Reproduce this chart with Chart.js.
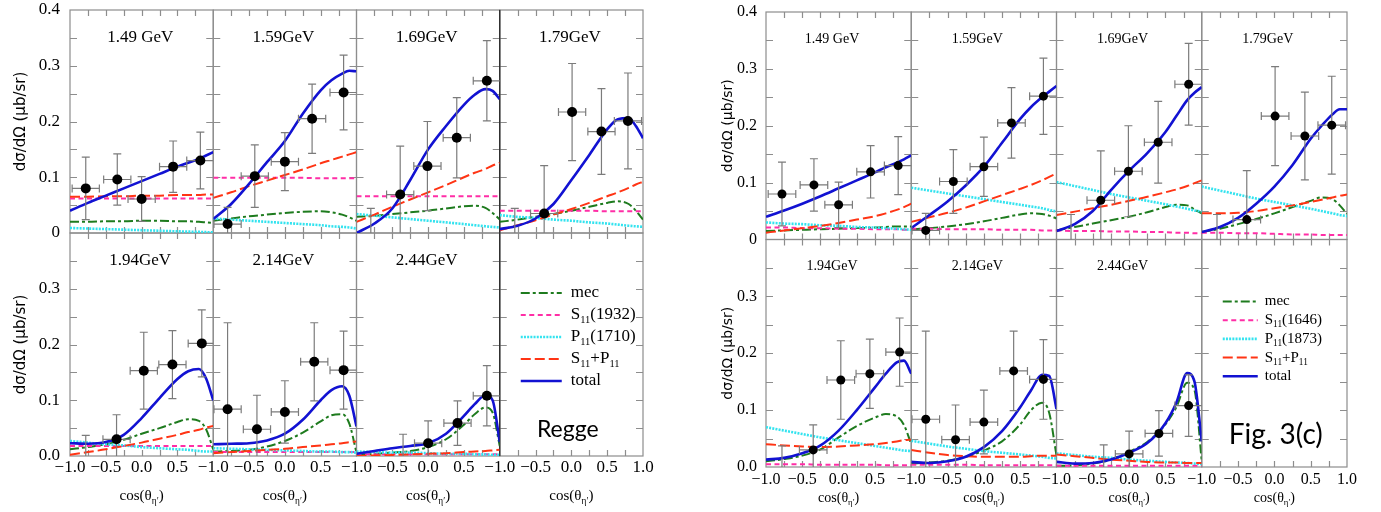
<!DOCTYPE html>
<html>
<head>
<meta charset="utf-8">
<script src="https://cdn.jsdelivr.net/npm/chart.js@4.4.1/dist/chart.umd.min.js"></script>
<style>
  body { margin: 0; background: #fff; width: 1381px; height: 512px; overflow: hidden; position: relative; }
  canvas { position: absolute; top: 0; }
  #regge { left: 0; }
  #fit { left: 700px; }
</style>
</head>
<body>
<canvas id="regge" width="700" height="512"></canvas>
<canvas id="fit" width="681" height="512"></canvas>
<script>
// cos(theta) nodes where every model curve is sampled
const cosGrid = [-1, -0.75, -0.5, -0.25, 0, 0.25, 0.5, 0.65, 0.8, 0.9, 1];
const energies = ['1.49 GeV', '1.59GeV', '1.69GeV', '1.79GeV', '1.94GeV', '2.14GeV', '2.44GeV'];

// measured cross sections (same points in both figures)
const pointCos = [
    [-0.78, -0.34, 0.0, 0.44, 0.82],
    [-0.80, -0.42, 0.0, 0.38, 0.82],
    [-0.80, -0.39, -0.01, 0.40, 0.82],
    [-0.79, -0.38, 0.01, 0.42, 0.79],
    [-0.78, -0.35, 0.03, 0.43, 0.84],
    [-0.80, -0.39, 0.0, 0.41, 0.82],
    [-0.35, 0.0, 0.41, 0.82]
];
const pointVal = [
    [0.080, 0.096, 0.061, 0.119, 0.130],
    [0.016, 0.102, 0.128, 0.205, 0.252],
    [-0.012, 0.069, 0.120, 0.171, 0.273],
    [-0.012, 0.035, 0.217, 0.182, 0.201],
    [-0.012, 0.030, 0.153, 0.164, 0.202],
    [0.084, 0.048, 0.079, 0.169, 0.154],
    [-0.012, 0.023, 0.059, 0.108]
];
const pointErr = [
    [0.056, 0.046, 0.040, 0.046, 0.051],
    [0.030, 0.056, 0.052, 0.062, 0.067],
    [0.056, 0.087, 0.080, 0.072, 0.072],
    [0.056, 0.086, 0.087, 0.077, 0.086],
    [0.049, 0.044, 0.069, 0.061, 0.060],
    [0.155, 0.061, 0.056, 0.070, 0.070],
    [0.051, 0.040, 0.040, 0.054]
];
const binHalfWidth = [0.19];

// Regge model components, one row per energy
const reggeMec = [
    [0.020, 0.020, 0.021, 0.021, 0.022, 0.022, 0.021, 0.021, 0.020, 0.019, 0.018],
    [0.022, 0.026, 0.030, 0.033, 0.036, 0.038, 0.039, 0.037, 0.033, 0.028, 0.022],
    [0.029, 0.031, 0.034, 0.037, 0.040, 0.044, 0.048, 0.049, 0.045, 0.036, 0.024],
    [0.020, 0.024, 0.029, 0.034, 0.040, 0.047, 0.054, 0.057, 0.052, 0.040, 0.024],
    [0.012, 0.016, 0.021, 0.029, 0.040, 0.050, 0.061, 0.066, 0.063, 0.048, 0.012],
    [0.008, 0.009, 0.011, 0.017, 0.027, 0.042, 0.062, 0.073, 0.075, 0.058, 0.006],
    [0.002, 0.004, 0.006, 0.009, 0.016, 0.030, 0.056, 0.075, 0.087, 0.078, 0.018]
];
const reggeS11 = [
    [0.062, 0.062, 0.062, 0.062, 0.062, 0.062, 0.062, 0.062, 0.062, 0.062, 0.062],
    [0.099, 0.099, 0.099, 0.099, 0.099, 0.099, 0.098, 0.098, 0.098, 0.098, 0.098],
    [0.066, 0.066, 0.066, 0.066, 0.066, 0.066, 0.066, 0.066, 0.066, 0.066, 0.066],
    [0.040, 0.040, 0.040, 0.040, 0.040, 0.040, 0.039, 0.039, 0.039, 0.039, 0.039],
    [0.018, 0.018, 0.018, 0.018, 0.018, 0.018, 0.018, 0.018, 0.018, 0.018, 0.018],
    [0.007, 0.007, 0.007, 0.007, 0.007, 0.007, 0.007, 0.007, 0.007, 0.007, 0.007],
    [0.003, 0.003, 0.003, 0.003, 0.003, 0.003, 0.003, 0.003, 0.003, 0.003, 0.003]
];
const reggeP11 = [
    [0.009, 0.008, 0.007, 0.006, 0.005, 0.004, 0.003, 0.0025, 0.002, 0.0015, 0.001],
    [0.026, 0.024, 0.022, 0.020, 0.018, 0.016, 0.014, 0.012, 0.011, 0.010, 0.008],
    [0.034, 0.031, 0.028, 0.025, 0.022, 0.019, 0.016, 0.014, 0.012, 0.011, 0.010],
    [0.032, 0.029, 0.027, 0.024, 0.022, 0.019, 0.017, 0.015, 0.013, 0.012, 0.011],
    [0.027, 0.024, 0.021, 0.019, 0.016, 0.014, 0.012, 0.011, 0.009, 0.008, 0.008],
    [0.014, 0.013, 0.012, 0.011, 0.010, 0.009, 0.008, 0.008, 0.007, 0.007, 0.006],
    [0.008, 0.007, 0.006, 0.006, 0.005, 0.004, 0.004, 0.003, 0.003, 0.002, 0.002]
];
const reggeSum = [
    [0.065, 0.065, 0.066, 0.066, 0.067, 0.067, 0.068, 0.068, 0.068, 0.069, 0.069],
    [0.063, 0.073, 0.084, 0.094, 0.104, 0.114, 0.125, 0.131, 0.137, 0.141, 0.145],
    [0.020, 0.033, 0.047, 0.060, 0.073, 0.086, 0.100, 0.108, 0.115, 0.121, 0.126],
    [0.005, 0.014, 0.023, 0.033, 0.043, 0.054, 0.066, 0.073, 0.081, 0.087, 0.092],
    [0.002, 0.007, 0.012, 0.018, 0.024, 0.031, 0.038, 0.043, 0.047, 0.051, 0.054],
    [0.005, 0.007, 0.009, 0.011, 0.013, 0.016, 0.019, 0.021, 0.023, 0.025, 0.026],
    [0.000, 0.001, 0.002, 0.003, 0.004, 0.005, 0.007, 0.008, 0.009, 0.010, 0.011]
];
const reggeTotal = [
    [0.040, 0.054, 0.067, 0.080, 0.093, 0.106, 0.119, 0.126, 0.133, 0.139, 0.145],
    [0.025, 0.052, 0.088, 0.127, 0.165, 0.214, 0.256, 0.274, 0.286, 0.291, 0.290],
    [0.000, 0.017, 0.044, 0.095, 0.150, 0.192, 0.230, 0.248, 0.258, 0.255, 0.240],
    [0.007, 0.013, 0.026, 0.052, 0.095, 0.140, 0.186, 0.204, 0.206, 0.192, 0.170],
    [0.023, 0.022, 0.025, 0.038, 0.068, 0.104, 0.138, 0.152, 0.156, 0.139, 0.100],
    [0.021, 0.022, 0.023, 0.028, 0.040, 0.065, 0.100, 0.118, 0.125, 0.108, 0.053],
    [0.004, 0.009, 0.014, 0.018, 0.023, 0.040, 0.072, 0.093, 0.109, 0.100, 0.025]
];

// resonance fit components, one row per energy
const fitMec = [
    [0.015, 0.016, 0.017, 0.018, 0.019, 0.020, 0.021, 0.022, 0.023, 0.023, 0.023],
    [0.018, 0.020, 0.023, 0.027, 0.032, 0.038, 0.044, 0.046, 0.045, 0.042, 0.037],
    [0.016, 0.022, 0.028, 0.034, 0.040, 0.048, 0.057, 0.061, 0.060, 0.053, 0.046],
    [0.013, 0.019, 0.027, 0.036, 0.046, 0.057, 0.068, 0.074, 0.071, 0.060, 0.045],
    [0.010, 0.014, 0.020, 0.031, 0.052, 0.072, 0.087, 0.093, 0.089, 0.074, 0.040],
    [0.006, 0.008, 0.011, 0.018, 0.029, 0.045, 0.075, 0.100, 0.113, 0.095, 0.020],
    [0.002, 0.003, 0.006, 0.013, 0.027, 0.044, 0.075, 0.105, 0.148, 0.135, 0.010]
];
const fitS11 = [
    [0.021, 0.021, 0.020, 0.020, 0.019, 0.019, 0.018, 0.018, 0.018, 0.017, 0.017],
    [0.019, 0.019, 0.018, 0.018, 0.018, 0.017, 0.017, 0.017, 0.016, 0.016, 0.016],
    [0.016, 0.015, 0.015, 0.014, 0.014, 0.013, 0.013, 0.012, 0.012, 0.011, 0.011],
    [0.012, 0.012, 0.011, 0.011, 0.010, 0.009, 0.009, 0.008, 0.008, 0.008, 0.008],
    [0.005, 0.005, 0.005, 0.004, 0.004, 0.004, 0.004, 0.003, 0.003, 0.003, 0.003],
    [0.004, 0.004, 0.004, 0.004, 0.003, 0.003, 0.003, 0.003, 0.003, 0.003, 0.003],
    [0.002, 0.002, 0.002, 0.002, 0.002, 0.002, 0.002, 0.002, 0.002, 0.002, 0.002]
];
const fitP11 = [
    [0.030, 0.028, 0.027, 0.025, 0.024, 0.022, 0.021, 0.020, 0.019, 0.018, 0.017],
    [0.091, 0.086, 0.081, 0.076, 0.071, 0.066, 0.061, 0.058, 0.055, 0.052, 0.049],
    [0.101, 0.094, 0.087, 0.080, 0.074, 0.068, 0.062, 0.058, 0.054, 0.051, 0.049],
    [0.093, 0.086, 0.079, 0.072, 0.066, 0.060, 0.054, 0.050, 0.046, 0.043, 0.041],
    [0.070, 0.064, 0.058, 0.052, 0.047, 0.042, 0.037, 0.034, 0.031, 0.029, 0.028],
    [0.046, 0.041, 0.036, 0.032, 0.028, 0.025, 0.022, 0.020, 0.018, 0.016, 0.015],
    [0.024, 0.021, 0.018, 0.016, 0.013, 0.011, 0.009, 0.008, 0.007, 0.006, 0.005]
];
const fitSum = [
    [0.012, 0.016, 0.020, 0.024, 0.029, 0.035, 0.041, 0.046, 0.052, 0.057, 0.063],
    [0.031, 0.039, 0.047, 0.056, 0.067, 0.078, 0.089, 0.096, 0.104, 0.110, 0.116],
    [0.043, 0.049, 0.055, 0.061, 0.068, 0.075, 0.083, 0.088, 0.094, 0.099, 0.104],
    [0.046, 0.046, 0.047, 0.050, 0.055, 0.060, 0.066, 0.070, 0.074, 0.077, 0.079],
    [0.040, 0.038, 0.036, 0.035, 0.036, 0.038, 0.040, 0.042, 0.045, 0.047, 0.048],
    [0.030, 0.025, 0.021, 0.019, 0.018, 0.018, 0.018, 0.019, 0.020, 0.020, 0.020],
    [0.022, 0.019, 0.016, 0.013, 0.011, 0.009, 0.008, 0.008, 0.007, 0.007, 0.007]
];
const fitTotal = [
    [0.040, 0.051, 0.063, 0.076, 0.090, 0.104, 0.118, 0.127, 0.135, 0.141, 0.148],
    [0.020, 0.043, 0.067, 0.095, 0.128, 0.170, 0.212, 0.233, 0.250, 0.260, 0.270],
    [0.015, 0.027, 0.050, 0.087, 0.121, 0.152, 0.189, 0.217, 0.245, 0.258, 0.268],
    [0.013, 0.022, 0.038, 0.063, 0.093, 0.131, 0.177, 0.200, 0.220, 0.229, 0.229],
    [0.013, 0.016, 0.024, 0.038, 0.064, 0.100, 0.140, 0.164, 0.184, 0.187, 0.164],
    [0.009, 0.007, 0.010, 0.018, 0.035, 0.063, 0.105, 0.135, 0.162, 0.160, 0.102],
    [0.009, 0.006, 0.007, 0.013, 0.025, 0.042, 0.077, 0.113, 0.165, 0.150, 0.045]
];

const SERIF = '"Liberation Serif", "Times New Roman", serif';
Chart.defaults.font.family = SERIF;
Chart.defaults.color = '#000';

// line styles for mec, S11, P11, S11+P11, total
const components = [
    { color: '#1e7b1e', dash: [9, 3, 3, 3], width: 2 },
    { color: '#ff2ea6', dash: [5, 3.5], width: 2 },
    { color: '#33e3ef', dash: [2, 1.2], width: 2.6 },
    { color: '#ff3414', dash: [10, 4], width: 2 },
    { color: '#1212d2', dash: [], width: 2.6 }
];

const reggeLayout = {
    curves: [reggeMec, reggeS11, reggeP11, reggeSum, reggeTotal],
    legend: ['mec', 'S_{11}(1932)', 'P_{11}(1710)', 'S_{11}+P_{11}', 'total'],
    tag: 'Regge',
    pad: { left: 0, top: 10, right: 57, bottom: 0 },
    yWidth: 70, xHeight: 56, tickSize: 17, tickPadX: 1.5, tickPadY: 10,
    yTitleSize: 15, yTitlePad: 12, labelSize: 17, labelCos: -0.02, labelVal: 0.35,
    titleSize: 15, titleY: 496.5, legendSize: 17, legendTop: 60, legendStep: 22,
    sampleFrom: 21, sampleTo: 62, textAt: 71, tagSize: 23, tagX: 68, tagY: 197, dotRadius: 5,
    darkCol: 3
};
const fitLayout = {
    curves: [fitMec, fitS11, fitP11, fitSum, fitTotal],
    legend: ['mec', 'S_{11}(1646)', 'P_{11}(1873)', 'S_{11}+P_{11}', 'total'],
    tag: 'Fig. 3(c)',
    pad: { left: 0, top: 12, right: 34, bottom: 0 },
    yWidth: 66, xHeight: 45, tickSize: 16, tickPadX: 3.4, tickPadY: 9,
    yTitleSize: 14, yTitlePad: 19.6, labelSize: 14, labelCos: -0.09, labelVal: 0.352,
    titleSize: 14, titleY: 498, legendSize: 15, legendTop: 62, legendStep: 18.7,
    sampleFrom: 21, sampleTo: 56, textAt: 63, tagSize: 28, tagX: 74, tagY: 195, dotRadius: 4.5,
    darkCol: -1
};

// text with _{..} subscripts, e.g. S_{11}(1932)
function drawRich(ctx, text, x, y, size, align) {
    const parts = [];
    text.split(/(_\{[^}]*\})/).forEach(s => {
        if (!s) return;
        if (s.startsWith('_{')) parts.push({ t: s.slice(2, -1), sub: true });
        else parts.push({ t: s, sub: false });
    });
    const subSize = size * 0.62;
    let total = 0;
    parts.forEach(p => {
        ctx.font = (p.sub ? subSize : size) + 'px ' + SERIF;
        p.w = ctx.measureText(p.t).width;
        total += p.w;
    });
    let cx = align === 'center' ? x - total / 2 : x;
    ctx.textBaseline = 'middle';
    ctx.textAlign = 'left';
    ctx.fillStyle = '#000';
    parts.forEach(p => {
        ctx.font = (p.sub ? subSize : size) + 'px ' + SERIF;
        ctx.fillText(p.t, cx, p.sub ? y + size * 0.32 : y);
        cx += p.w;
    });
}

function fmtX(v, last) {
    const r = Math.round(v * 100);
    if (r % 50 !== 0) return '';
    if (r === 100 && !last) return '';
    const s = Math.abs(v).toFixed(1);
    return r < 0 ? '\u2212' + s : s;
}

function fmtY(v, top) {
    const r = Math.round(v * 100);
    if (r % 10 !== 0) return '';
    if (r === 0) return top ? '0' : '0.0';
    if (r === 40) return top ? '0.4' : '';
    return (r / 100).toFixed(1);
}

function panelRect(chart, xId, yId) {
    const xs = chart.scales[xId], ys = chart.scales[yId];
    return { l: xs.left, r: xs.right, t: ys.top, b: ys.bottom };
}

// frames, inward ticks, error bars, labels and legend
function panelPlugin(g) {
    return {
        id: 'panels',
        beforeDatasetsDraw(chart) {
            const ctx = chart.ctx;
            ctx.save();
            ctx.strokeStyle = '#8d8d8d';
            ctx.lineWidth = 1.2;
            ['yTop', 'yBot'].forEach(yId => {
                const ys = chart.scales[yId];
                for (let c = 0; c < 4; c++) {
                    const xs = chart.scales['x' + c];
                    const r = panelRect(chart, 'x' + c, yId);
                    ctx.strokeRect(r.l, r.t, r.r - r.l, r.b - r.t);
                    ctx.beginPath();
                    xs.ticks.forEach(tk => {
                        if (Math.abs(tk.value) > 0.99) return;
                        const x = Math.round(xs.getPixelForValue(tk.value)) + 0.5;
                        ctx.moveTo(x, r.b); ctx.lineTo(x, r.b - 6);
                        ctx.moveTo(x, r.t); ctx.lineTo(x, r.t + 6);
                    });
                    ys.ticks.forEach(tk => {
                        if (tk.value < 0.01 || tk.value > 0.39) return;
                        const y = Math.round(ys.getPixelForValue(tk.value)) + 0.5;
                        ctx.moveTo(r.l, y); ctx.lineTo(r.l + 7, y);
                        ctx.moveTo(r.r, y); ctx.lineTo(r.r - 7, y);
                    });
                    ctx.stroke();
                }
            });
            // one column edge is printed darker
            if (g.darkCol >= 0) {
                const xs = chart.scales['x' + g.darkCol];
                ctx.strokeStyle = '#222';
                ctx.beginPath();
                ctx.moveTo(xs.left, chart.scales.yTop.top);
                ctx.lineTo(xs.left, chart.scales.yBot.bottom);
                ctx.stroke();
            }
            ctx.restore();
        },
        beforeDatasetDraw(chart, args) {
            const ds = chart.data.datasets[args.index];
            const meta = args.meta;
            const ctx = chart.ctx;
            const xs = meta.xScale, ys = meta.yScale;
            ctx.save();
            ctx.beginPath();
            ctx.rect(xs.left, ys.top, xs.right - xs.left, ys.bottom - ys.top);
            ctx.clip();
            if (ds.type !== 'scatter') return;
            ctx.strokeStyle = '#7b7b7b';
            ctx.lineWidth = 1.2;
            ctx.beginPath();
            ds.data.forEach((pt, i) => {
                const x = xs.getPixelForValue(pt.x), y = ys.getPixelForValue(pt.y);
                const y1 = ys.getPixelForValue(pt.y + ds.errors[i]);
                const y2 = ys.getPixelForValue(pt.y - ds.errors[i]);
                const x1 = xs.getPixelForValue(pt.x - binHalfWidth[0]);
                const x2 = xs.getPixelForValue(pt.x + binHalfWidth[0]);
                ctx.moveTo(x, y1); ctx.lineTo(x, y2);
                ctx.moveTo(x - 4, y1); ctx.lineTo(x + 4, y1);
                ctx.moveTo(x - 4, y2); ctx.lineTo(x + 4, y2);
                ctx.moveTo(x1, y); ctx.lineTo(x2, y);
                ctx.moveTo(x1, y - 4); ctx.lineTo(x1, y + 4);
                ctx.moveTo(x2, y - 4); ctx.lineTo(x2, y + 4);
            });
            ctx.stroke();
        },
        afterDatasetDraw(chart) {
            chart.ctx.restore();
        },
        afterDraw(chart) {
            const ctx = chart.ctx;
            ctx.save();
            // energy of each panel
            energies.forEach((e, p) => {
                const xs = chart.scales['x' + (p % 4)];
                const ys = chart.scales[p < 4 ? 'yTop' : 'yBot'];
                ctx.font = g.labelSize + 'px ' + SERIF;
                ctx.fillStyle = '#000';
                ctx.textAlign = 'center';
                ctx.textBaseline = 'middle';
                ctx.fillText(e, xs.getPixelForValue(g.labelCos), ys.getPixelForValue(g.labelVal));
            });
            // cos(theta_eta') under every column
            for (let c = 0; c < 4; c++) {
                const xs = chart.scales['x' + c];
                drawRich(ctx, 'cos(\u03b8_{\u03b7\u2032})', (xs.left + xs.right) / 2, g.titleY, g.titleSize, 'center');
            }
            // legend in the empty panel
            const lx = chart.scales.x3.left, ly = chart.scales.yBot.top;
            components.forEach((comp, k) => {
                const y = ly + g.legendTop + k * g.legendStep;
                ctx.save();
                ctx.strokeStyle = comp.color;
                ctx.lineWidth = comp.width;
                ctx.setLineDash(comp.dash);
                ctx.beginPath();
                ctx.moveTo(lx + g.sampleFrom, y);
                ctx.lineTo(lx + g.sampleTo, y);
                ctx.stroke();
                ctx.restore();
                drawRich(ctx, g.legend[k], lx + g.textAt, y, g.legendSize, 'left');
            });
            ctx.font = g.tagSize + 'px Lato, "Open Sans", sans-serif';
            ctx.fillStyle = '#000';
            ctx.textAlign = 'center';
            ctx.textBaseline = 'middle';
            ctx.fillText(g.tag, lx + g.tagX, ly + g.tagY);
            ctx.restore();
        }
    };
}

function buildDatasets(curves, g) {
    const sets = [];
    energies.forEach((e, p) => {
        const xId = 'x' + (p % 4);
        const yId = p < 4 ? 'yTop' : 'yBot';
        sets.push({
            type: 'scatter',
            label: e,
            data: pointCos[p].map((c, i) => ({ x: c, y: pointVal[p][i] })),
            errors: pointErr[p],
            xAxisID: xId, yAxisID: yId,
            pointRadius: g.dotRadius,
            backgroundColor: '#000', borderColor: '#000', borderWidth: 0,
            order: 0
        });
        components.forEach((comp, k) => {
            sets.push({
                type: 'line',
                label: e + ' ' + k,
                data: cosGrid.map((c, i) => ({ x: c, y: curves[k][p][i] })),
                xAxisID: xId, yAxisID: yId,
                borderColor: comp.color,
                borderDash: comp.dash,
                borderWidth: comp.width,
                pointRadius: 0,
                fill: false,
                cubicInterpolationMode: 'monotone',
                order: 5 - k
            });
        });
    });
    return sets;
}

function buildScales(g) {
    const scales = {};
    for (let c = 0; c < 4; c++) {
        scales['x' + c] = {
            type: 'linear', position: 'bottom', stack: 'cols', min: -1, max: 1,
            grid: { display: false, drawTicks: false, tickLength: 0 },
            border: { display: false },
            ticks: {
                stepSize: 0.25, autoSkip: false, maxRotation: 0, padding: g.tickPadX,
                color: '#000', font: { family: SERIF, size: g.tickSize },
                callback: v => fmtX(v, c === 3)
            },
            afterFit: s => { s.height = g.xHeight; }
        };
    }
    // left-hand boxes are stacked last-defined first, so the lower row goes in first
    ['yBot', 'yTop'].forEach(id => {
        const top = id === 'yTop';
        scales[id] = {
            type: 'linear', position: 'left', stack: 'rows', min: 0, max: 0.4,
            grid: { display: false, drawTicks: false, tickLength: 0 },
            border: { display: false },
            ticks: {
                stepSize: 0.05, autoSkip: false, padding: g.tickPadY,
                color: '#000', font: { family: SERIF, size: g.tickSize },
                callback: v => fmtY(v, top)
            },
            title: {
                display: true, text: 'd\u03c3/d\u03a9 (\u03bcb/sr)', color: '#000',
                font: { family: '"DejaVu Sans", sans-serif', size: g.yTitleSize },
                padding: { top: g.yTitlePad, bottom: 0 }
            },
            // fixed width; label overhang must not push the plot area down
            afterFit: s => { s.width = g.yWidth; s.paddingTop = 0; s.paddingBottom = 0; }
        };
    });
    return scales;
}

function drawGroup(canvasId, g) {
    const ctx = document.getElementById(canvasId).getContext('2d');
    return new Chart(ctx, {
        data: { datasets: buildDatasets(g.curves, g) },
        options: {
            responsive: false,
            animation: false,
            events: [],
            layout: { padding: g.pad },
            plugins: { legend: { display: false }, tooltip: { enabled: false } },
            scales: buildScales(g)
        },
        plugins: [panelPlugin(g)]
    });
}

document.addEventListener('DOMContentLoaded', () => {
    drawGroup('regge', reggeLayout);
    drawGroup('fit', fitLayout);
});
</script>
</body>
</html>
